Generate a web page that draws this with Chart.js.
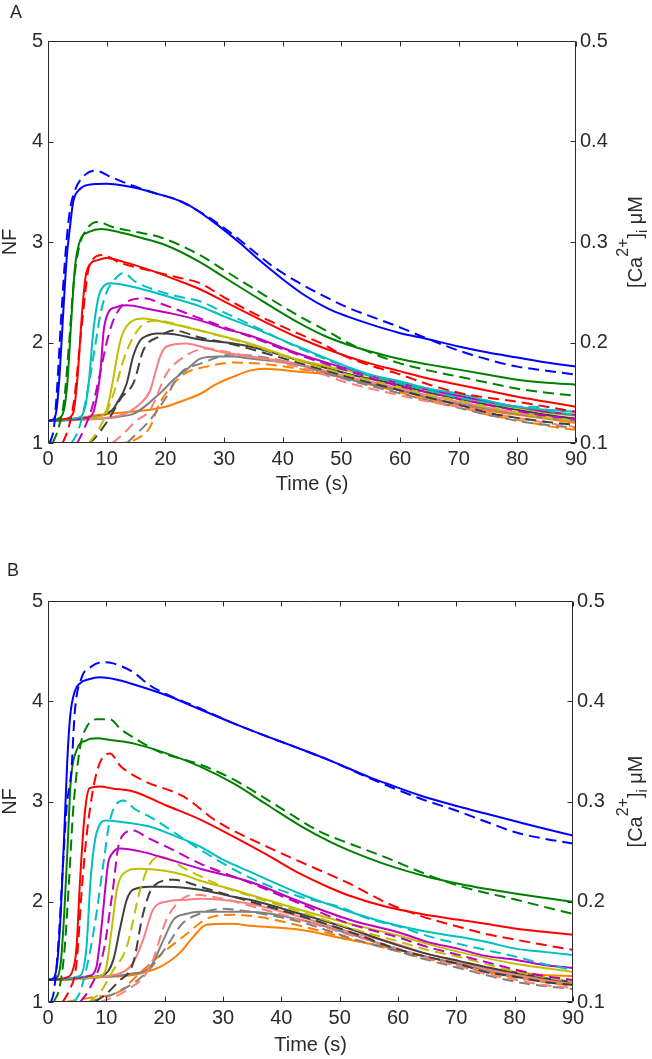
<!DOCTYPE html>
<html><head><meta charset="utf-8">
<script src="https://cdn.jsdelivr.net/npm/chart.js@4.4.1/dist/chart.umd.min.js"></script>
<style>
html,body{margin:0;padding:0;background:#fff;}
#wrap{position:relative;width:652px;height:1059px;overflow:hidden;}
canvas{position:absolute;left:0;}
</style></head><body>
<div id="wrap">
<canvas id="cA" width="652" height="520" style="top:0px"></canvas>
<canvas id="cB" width="652" height="539" style="top:520px"></canvas>
</div>
<script>
// ---------- tick labels ----------
const timeTicks = [0,10,20,30,40,50,60,70,80,90];
const nfTicks = [1,2,3,4,5];
const caTicks = [0.1,0.2,0.3,0.4,0.5];

// ---------- Panel A: [time (s), NF] ; M = model (solid), D = data (dashed) ----------
const A_blue_M = [[0,1.22],[1,1.24],[1.5,1.35],[2,1.7],[2.6,2.3],[3.2,2.85],[3.75,3.15],[4.3,3.4],[5.5,3.53],[7,3.57],[10,3.58],[14,3.55],[18,3.49],[23.6,3.38],[28.2,3.2],[32.7,2.99],[36,2.82],[40,2.63],[44,2.46],[48,2.33],[51,2.26],[55,2.18],[59.6,2.1],[65,2.03],[70,1.96],[75,1.9],[80,1.85],[85,1.8],[90,1.76]];
const A_blue_D = [[0.3,1.0],[1,1.15],[1.5,1.5],[2.2,2.2],[3,2.9],[3.7,3.3],[4.5,3.5],[6,3.65],[8,3.71],[11,3.64],[14,3.57],[18,3.49],[22,3.42],[27,3.26],[31.6,3.07],[35,2.91],[38.5,2.75],[42.6,2.6],[46.4,2.48],[51,2.35],[55,2.26],[59.6,2.16],[65,2.03],[70,1.92],[75,1.83],[80,1.76],[85,1.72],[90,1.68]];
const A_green_M = [[0,1.22],[2,1.25],[2.8,1.35],[3.3,1.6],[4,2.25],[4.6,2.75],[5.5,3.02],[7,3.1],[9,3.13],[12,3.1],[16,3.04],[20,2.97],[25.9,2.8],[30,2.65],[34.4,2.49],[42.6,2.2],[47,2.07],[51,1.98],[55,1.91],[59.6,1.84],[65,1.78],[70,1.73],[75,1.68],[80,1.63],[85,1.6],[90,1.58]];
const A_green_D = [[0.8,1.0],[1.8,1.15],[2.8,1.45],[3.6,2.0],[4.4,2.6],[5.3,2.95],[6.5,3.12],[8.4,3.2],[11,3.15],[15,3.1],[19,3.05],[25.9,2.87],[30,2.72],[34.4,2.56],[42.6,2.27],[48.6,2.08],[51,2.0],[55,1.9],[59.6,1.8],[65,1.72],[70,1.66],[75,1.6],[80,1.54],[85,1.5],[90,1.47]];
const A_red_M = [[0,1.22],[3,1.24],[4.3,1.3],[5,1.63],[5.8,2.29],[6.4,2.65],[7.2,2.78],[8.5,2.82],[10,2.84],[13,2.8],[17.4,2.72],[22,2.62],[25.9,2.53],[30,2.41],[34.4,2.28],[42.6,2.05],[51,1.86],[55,1.79],[59.6,1.72],[65,1.64],[70,1.58],[75,1.52],[80,1.46],[85,1.41],[90,1.36]];
const A_red_D = [[2.5,1.0],[3.5,1.15],[4.5,1.45],[5.3,1.9],[6,2.3],[6.8,2.7],[7.5,2.82],[9.4,2.87],[12,2.8],[17,2.72],[22,2.65],[25.9,2.59],[30,2.45],[34.4,2.31],[42.6,2.09],[47,1.98],[50.4,1.87],[55,1.77],[59.6,1.69],[65,1.58],[70,1.5],[75,1.45],[80,1.41],[85,1.36],[90,1.31]];
const A_cyan_M = [[0,1.22],[5,1.25],[6.3,1.35],[7,1.63],[7.7,2.1],[8.6,2.45],[9.5,2.56],[10.6,2.59],[14,2.56],[17.4,2.51],[22,2.43],[25.9,2.36],[30,2.26],[34.4,2.16],[42.6,1.96],[51,1.76],[55,1.68],[59.6,1.62],[65,1.54],[70,1.49],[75,1.42],[80,1.36],[85,1.33],[90,1.31]];
const A_cyan_D = [[4,1.0],[5,1.1],[6,1.3],[7,1.6],[8,1.95],[9,2.3],[10,2.5],[11,2.6],[12.8,2.69],[15,2.6],[17.4,2.54],[22,2.46],[25.9,2.41],[30,2.3],[34.4,2.18],[42.6,1.95],[51,1.75],[55,1.67],[59.6,1.6],[65,1.52],[70,1.45],[75,1.4],[80,1.36],[83,1.36],[86,1.31],[90,1.28]];
const A_mag_M = [[0,1.22],[6.5,1.25],[7.7,1.3],[8.3,1.45],[8.9,1.69],[9.5,2.12],[10.3,2.3],[11.5,2.35],[13.4,2.37],[17.4,2.33],[21,2.29],[25.9,2.22],[30,2.14],[34.4,2.07],[42.6,1.89],[48,1.79],[51,1.74],[55,1.67],[59.6,1.6],[65,1.53],[70,1.47],[75,1.41],[80,1.36],[85,1.31],[90,1.28]];
const A_mag_D = [[5,1.0],[6,1.12],[7.5,1.35],[8.9,1.7],[10,2.0],[11,2.2],[12.5,2.36],[14,2.42],[16.3,2.44],[20,2.37],[25.9,2.24],[34.4,2.06],[42.6,1.88],[51,1.72],[59.6,1.57],[65,1.5],[70,1.44],[75,1.38],[80,1.32],[85,1.27],[90,1.24]];
const A_olive_M = [[0,1.22],[8.5,1.26],[10,1.33],[11,1.6],[11.9,1.9],[12.5,2.05],[13.5,2.17],[16.3,2.24],[20,2.2],[25.9,2.12],[30,2.06],[34.4,1.99],[42.6,1.83],[51,1.72],[59.6,1.6],[65,1.52],[70,1.46],[75,1.4],[80,1.35],[85,1.3],[90,1.27]];
const A_olive_D = [[7,1.0],[8.5,1.12],[10,1.3],[11.5,1.55],[13,1.85],[14.5,2.05],[16,2.17],[18.5,2.22],[22,2.18],[25.9,2.12],[34.4,1.98],[42.6,1.82],[51,1.68],[59.6,1.56],[65,1.48],[70,1.42],[75,1.36],[80,1.3],[85,1.25],[90,1.22]];
const A_black_M = [[0,1.22],[9,1.27],[11,1.33],[11.7,1.39],[13.4,1.59],[14.5,1.86],[15.7,2.02],[17,2.07],[18.5,2.09],[20,2.09],[25.9,2.03],[31.6,1.99],[34.4,1.96],[43,1.82],[51,1.69],[59.6,1.58],[65,1.5],[70,1.44],[75,1.38],[80,1.33],[85,1.28],[90,1.24]];
const A_black_D = [[7,1.0],[8,1.05],[10.6,1.26],[12.5,1.45],[14.6,1.6],[16.3,1.93],[19,2.06],[21.4,2.12],[25.9,2.05],[31.6,1.98],[42.6,1.8],[51,1.66],[59.6,1.53],[65,1.45],[70,1.38],[75,1.3],[80,1.25],[85,1.21],[90,1.18]];
const A_pink_M = [[0,1.22],[12,1.27],[15.7,1.39],[17.4,1.52],[18.1,1.66],[19.1,1.86],[20.2,1.96],[23.6,1.99],[26,1.96],[30,1.9],[34.4,1.86],[42.6,1.79],[51,1.66],[59.6,1.55],[65,1.47],[70,1.41],[75,1.35],[80,1.3],[85,1.27],[90,1.24]];
const A_pink_D = [[11,1.0],[13,1.1],[15,1.22],[17.4,1.33],[20.2,1.69],[22.5,1.83],[27,1.94],[31,1.9],[38,1.82],[45,1.72],[51,1.6],[59.6,1.48],[65,1.41],[70,1.36],[75,1.3],[80,1.25],[85,1.2],[90,1.16]];
const A_gray_M = [[0,1.22],[14,1.28],[19,1.49],[21.4,1.63],[23.6,1.73],[26,1.84],[29,1.86],[31.6,1.86],[34.4,1.84],[42.6,1.78],[51,1.64],[59.6,1.53],[65,1.45],[70,1.39],[75,1.34],[80,1.29],[85,1.25],[90,1.22]];
const A_gray_D = [[13.5,1.0],[14,1.03],[17.4,1.23],[20.2,1.46],[22.5,1.69],[26,1.79],[31.6,1.88],[38,1.84],[42.6,1.78],[51,1.63],[59.6,1.5],[65,1.42],[70,1.35],[75,1.28],[80,1.22],[85,1.18],[90,1.15]];
const A_orange_M = [[0,1.22],[5,1.25],[8.9,1.28],[14,1.31],[17.4,1.33],[20,1.36],[23,1.42],[26,1.49],[28.5,1.58],[31.6,1.66],[34.4,1.72],[37,1.74],[42.6,1.71],[48,1.68],[51,1.64],[55,1.58],[59.6,1.53],[65,1.44],[70,1.38],[75,1.32],[80,1.28],[85,1.24],[90,1.2]];
const A_orange_D = [[0,1.0],[12.3,1.0],[15.7,1.06],[17.4,1.16],[19,1.39],[21.4,1.59],[23.6,1.7],[27,1.76],[31.6,1.8],[36,1.79],[42.6,1.74],[51,1.64],[59.6,1.51],[65,1.42],[70,1.36],[75,1.28],[80,1.23],[85,1.17],[90,1.13]];

// ---------- Panel B ----------
const B_blue_M = [[0,1.22],[1,1.24],[1.6,1.4],[2.2,1.9],[2.8,2.7],[3.3,3.4],[3.8,3.85],[4.6,4.1],[5.5,4.18],[7,4.22],[8.9,4.24],[11.5,4.22],[14.6,4.17],[20.3,4.06],[26,3.92],[31.8,3.78],[37.5,3.65],[43,3.53],[48.3,3.41],[55.2,3.24],[58,3.18],[63.8,3.06],[70.4,2.95],[75,2.88],[80.3,2.8],[85,2.73],[90,2.66]];
const B_blue_D = [[0.5,1.0],[1,1.1],[1.8,1.6],[2.5,2.3],[3.2,2.95],[4,3.3],[4.6,3.9],[5.8,4.24],[7.3,4.34],[9.5,4.39],[11,4.38],[14.6,4.29],[17.4,4.16],[20.3,4.07],[26,3.93],[31.8,3.78],[37.5,3.65],[43,3.53],[48.3,3.41],[55.2,3.23],[63.8,3.03],[70.4,2.9],[75,2.8],[80.3,2.69],[85,2.63],[90,2.58]];
const B_green_M = [[0,1.22],[1.5,1.24],[2.2,1.4],[2.8,1.9],[3.4,2.6],[3.9,3.2],[4.9,3.51],[6.6,3.61],[8.3,3.63],[11,3.61],[14.6,3.58],[20.3,3.48],[26,3.35],[31.8,3.18],[37.5,2.97],[43.2,2.76],[48.3,2.6],[51.7,2.51],[58,2.37],[65,2.25],[70.4,2.18],[75,2.13],[80.3,2.08],[85,2.04],[90,2.0]];
const B_green_D = [[1,1.0],[2,1.15],[2.8,1.5],[3.6,2.2],[4.3,2.9],[5.5,3.54],[6.6,3.74],[8.3,3.82],[10.6,3.82],[12.5,3.72],[14.6,3.64],[18.9,3.5],[26,3.37],[31.8,3.22],[40.3,2.92],[46.6,2.7],[51.7,2.58],[58,2.44],[65,2.27],[70.4,2.16],[75,2.09],[80.3,2.02],[85,1.95],[90,1.88]];
const B_red_M = [[0,1.22],[3.5,1.25],[4.6,1.4],[4.9,1.55],[5.5,2.22],[6.3,2.88],[7.1,3.13],[8.9,3.15],[11,3.13],[14.6,3.1],[20.3,2.96],[26.1,2.82],[31.8,2.65],[37.5,2.47],[43.2,2.28],[48.3,2.14],[51.7,2.06],[58,1.95],[63.8,1.88],[70.4,1.82],[75,1.78],[80.3,1.73],[85,1.7],[90,1.67]];
const B_red_D = [[2.5,1.0],[3.5,1.1],[4.9,1.39],[5.7,2.05],[6.6,2.65],[8.3,3.28],[10.6,3.48],[12.5,3.35],[16.3,3.21],[23.2,3.05],[29,2.8],[37.5,2.55],[43.2,2.4],[48.3,2.27],[51.7,2.18],[55,2.08],[58,1.99],[63.8,1.86],[70.4,1.75],[75,1.68],[80.3,1.62],[85,1.57],[90,1.52]];
const B_cyan_M = [[0,1.22],[5.5,1.26],[6.6,1.55],[7.3,2.22],[8.3,2.68],[10,2.81],[12,2.8],[17.4,2.75],[22,2.65],[26.1,2.55],[30,2.42],[34.6,2.3],[43.2,2.08],[48.3,1.97],[51.7,1.9],[58,1.79],[65,1.7],[70.4,1.65],[75,1.6],[80.3,1.53],[85,1.5],[90,1.47]];
const B_cyan_D = [[4.5,1.0],[5.5,1.1],[7.2,1.5],[8.3,1.88],[9.5,2.38],[10.6,2.81],[12.9,3.01],[15,2.92],[17.4,2.85],[26.1,2.52],[34.6,2.24],[43.2,2.05],[49.9,1.95],[55,1.83],[60.3,1.75],[65,1.66],[70.4,1.58],[75,1.52],[80.3,1.45],[85,1.38],[90,1.32]];
const B_mag_M = [[0,1.22],[7,1.26],[8.3,1.35],[8.9,1.6],[9.4,1.88],[10.3,2.38],[11,2.48],[12.3,2.53],[16,2.5],[20.3,2.43],[26.1,2.33],[34.6,2.2],[43.2,2.0],[51.7,1.82],[60.3,1.69],[65,1.6],[70.4,1.53],[75,1.46],[80.3,1.42],[85,1.37],[90,1.34]];
const B_mag_D = [[5.5,1.0],[7,1.12],[9.5,1.5],[11,2.07],[12.3,2.61],[14.6,2.71],[17,2.64],[20.3,2.55],[26.1,2.38],[34.6,2.19],[43.2,1.98],[51.7,1.78],[60.3,1.64],[65,1.55],[70.4,1.47],[75,1.4],[80.3,1.32],[85,1.26],[90,1.22]];
const B_olive_M = [[0,1.22],[9,1.26],[10,1.35],[10.9,1.72],[11.8,2.12],[12.9,2.28],[15.8,2.33],[20,2.31],[23.2,2.27],[26.1,2.21],[31.8,2.12],[34.6,2.07],[43.2,1.92],[51.7,1.78],[60.3,1.66],[65,1.58],[70.4,1.5],[75,1.44],[80.3,1.38],[85,1.34],[90,1.3]];
const B_olive_D = [[7,1.0],[9,1.1],[11,1.3],[13.5,1.55],[15.8,2.12],[17.5,2.38],[19.2,2.45],[23.8,2.32],[30,2.15],[34.6,2.06],[43.2,1.9],[51.7,1.74],[60.3,1.6],[65,1.52],[70.4,1.45],[75,1.38],[80.3,1.3],[85,1.25],[90,1.2]];
const B_black_M = [[0,1.22],[9.5,1.27],[11.2,1.42],[12.3,1.72],[13.5,2.02],[14.6,2.12],[17.5,2.15],[20.3,2.15],[26.1,2.12],[31.8,2.05],[34.6,2.02],[43.2,1.88],[51.7,1.73],[60.3,1.56],[65,1.48],[70.4,1.41],[75,1.35],[80.3,1.29],[85,1.24],[90,1.2]];
const B_black_D = [[8,1.0],[10,1.08],[12,1.2],[14.6,1.39],[16.3,1.88],[18,2.15],[21.5,2.22],[26.1,2.15],[31.8,2.05],[43.2,1.86],[51.7,1.7],[60.3,1.52],[65,1.45],[70.4,1.38],[75,1.3],[80.3,1.25],[85,1.2],[90,1.17]];
const B_pink_M = [[0,1.22],[12,1.28],[14.6,1.39],[16.3,1.62],[18,1.92],[20.3,2.0],[23.8,2.02],[26.1,2.03],[34.6,1.98],[43.2,1.85],[51.7,1.7],[60.3,1.57],[65,1.48],[70.4,1.4],[75,1.33],[80.3,1.27],[85,1.22],[90,1.18]];
const B_pink_D = [[9,1.0],[13,1.1],[17.5,1.35],[20.3,1.82],[22.6,2.01],[25,2.07],[30,2.03],[34.6,1.96],[43.2,1.82],[51.7,1.67],[60.3,1.53],[65,1.44],[70.4,1.36],[75,1.28],[80.3,1.22],[85,1.17],[90,1.14]];
const B_gray_M = [[0,1.22],[14,1.28],[17.5,1.35],[19.8,1.62],[21.5,1.82],[23.8,1.88],[26,1.9],[31.8,1.9],[34.6,1.9],[43.2,1.82],[51.7,1.68],[60.3,1.52],[65,1.45],[70.4,1.38],[75,1.32],[80.3,1.26],[85,1.22],[90,1.18]];
const B_gray_D = [[7,1.0],[12,1.1],[17,1.3],[20.3,1.55],[23,1.78],[26,1.88],[30,1.93],[34.6,1.9],[43.2,1.8],[51.7,1.64],[60.3,1.5],[65,1.42],[70.4,1.34],[75,1.27],[80.3,1.2],[85,1.16],[90,1.13]];
const B_orange_M = [[0,1.22],[9,1.25],[14.6,1.27],[19.2,1.35],[22.6,1.49],[24.9,1.65],[27.2,1.77],[31.8,1.78],[34.6,1.76],[43.2,1.72],[51.7,1.62],[60.3,1.52],[65,1.45],[70.4,1.38],[75,1.33],[80.3,1.3],[85,1.27],[90,1.26]];
const B_orange_D = [[3,1.0],[8,1.05],[11.8,1.09],[16.3,1.32],[20.3,1.52],[23.8,1.68],[27.2,1.83],[31.8,1.87],[36,1.85],[43.2,1.76],[51.7,1.63],[60.3,1.5],[65,1.43],[70.4,1.36],[75,1.3],[80.3,1.24],[85,1.2],[90,1.16]];

// ---------- styles ----------
const FONT = '"Liberation Sans", Arial, Helvetica, sans-serif';
const TXT = '#2b2b2b';
const COL = {blue:'#0000ff', green:'#008000', red:'#ff0000', cyan:'#00bfbf', mag:'#bf00bf',
             olive:'#bfbf00', black:'#3f3f3f', pink:'#f88080', gray:'#808080', orange:'#ff8000'};

const panelA = [[A_blue_M,A_blue_D,'blue'],[A_green_M,A_green_D,'green'],[A_red_M,A_red_D,'red'],[A_cyan_M,A_cyan_D,'cyan'],[A_mag_M,A_mag_D,'mag'],[A_olive_M,A_olive_D,'olive'],[A_black_M,A_black_D,'black'],[A_pink_M,A_pink_D,'pink'],[A_gray_M,A_gray_D,'gray'],[A_orange_M,A_orange_D,'orange']];
const panelB = [[B_blue_M,B_blue_D,'blue'],[B_green_M,B_green_D,'green'],[B_red_M,B_red_D,'red'],[B_cyan_M,B_cyan_D,'cyan'],[B_mag_M,B_mag_D,'mag'],[B_olive_M,B_olive_D,'olive'],[B_black_M,B_black_D,'black'],[B_pink_M,B_pink_D,'pink'],[B_gray_M,B_gray_D,'gray'],[B_orange_M,B_orange_D,'orange']];

function toXY(p){ return p.map(q => ({x:q[0], y:q[1]})); }
function buildDatasets(list){
  const out = [];
  list.forEach(([m, d, c]) => {
    out.push({data:toXY(m), borderColor:COL[c], borderWidth:2, pointRadius:0, fill:false, cubicInterpolationMode:'monotone', yAxisID:'y'});
    out.push({data:toXY(d), borderColor:COL[c], borderWidth:2, borderDash:[11,6], pointRadius:0, fill:false, cubicInterpolationMode:'monotone', yAxisID:'y'});
  });
  return out;
}

const frameTicks = {
  id:'frameTicks',
  afterDatasetsDraw(chart, args, o){
    const {ctx, chartArea:a, scales} = chart;
    const x = scales.x, y = scales.y, y1 = scales.y1;
    ctx.save();
    ctx.strokeStyle = TXT; ctx.lineWidth = 1;
    const L = Math.round(a.left)+0.5, R = Math.round(a.right)-0.5, T = Math.round(a.top)+0.5, B = Math.round(a.bottom)-0.5;
    ctx.beginPath();
    ctx.rect(L, T, R-L, B-T);
    timeTicks.forEach(v => { const px = Math.round(x.getPixelForValue(v))+0.5; ctx.moveTo(px,B); ctx.lineTo(px,B-5); ctx.moveTo(px,T); ctx.lineTo(px,T+5); });
    nfTicks.forEach(v => { const py = Math.round(y.getPixelForValue(v))+0.5; ctx.moveTo(L,py); ctx.lineTo(L+5,py); });
    caTicks.forEach(v => { const py = Math.round(y1.getPixelForValue(v))+0.5; ctx.moveTo(R,py); ctx.lineTo(R-5,py); });
    ctx.stroke();
    // panel letter
    ctx.fillStyle = TXT;
    ctx.font = '18px ' + FONT;
    ctx.textBaseline = 'alphabetic'; ctx.textAlign = 'left';
    ctx.fillText(o.letter, o.lx, o.ly);
    // right axis title  [Ca2+]i µM
    const parts = [
      {t:'[Ca', s:20, dy:0}, {t:'2+', s:16, dy:-14}, {t:']', s:20, dy:0}, {t:'i', s:14, dy:5}, {t:' \u03bcM', s:20, dy:0}
    ];
    let W = 0;
    parts.forEach(p => { ctx.font = p.s + 'px ' + FONT; p.w = ctx.measureText(p.t).width; W += p.w; });
    ctx.translate(o.titleX, (a.top + a.bottom)/2);
    ctx.rotate(-Math.PI/2);
    let cx = -W/2;
    parts.forEach(p => { ctx.font = p.s + 'px ' + FONT; ctx.fillText(p.t, cx, p.dy); cx += p.w; });
    ctx.restore();
  }
};

function makeChart(id, list, p){
  const tickFont = {family:FONT, size:20};
  return new Chart(document.getElementById(id), {
    type:'line',
    data:{datasets: buildDatasets(list)},
    plugins:[frameTicks],
    options:{
      responsive:false, animation:false, devicePixelRatio:1,
      layout:{padding:{top:p.top, left:0, right:0, bottom:0}},
      plugins:{legend:{display:false}, tooltip:{enabled:false},
               frameTicks:{letter:p.letter, lx:p.lx, ly:p.ly, titleX:642}},
      scales:{
        x:{type:'linear', min:0, max:90, position:'bottom',
           grid:{display:false, drawTicks:false}, border:{display:false},
           afterBuildTicks: s => { s.ticks = timeTicks.map(v => ({value:v})); },
           ticks:{color:TXT, font:tickFont, padding:4, maxRotation:0, autoSkip:false},
           title:{display:true, text:'Time (s)', color:TXT, font:tickFont, padding:{top:0, bottom:p.xTitlePad}},
           afterFit: s => { s.height = p.xH; }},
        y:{type:'linear', min:1, max:5, position:'left',
           grid:{display:false, drawTicks:false}, border:{display:false},
           afterBuildTicks: s => { s.ticks = nfTicks.map(v => ({value:v})); },
           ticks:{color:TXT, font:tickFont, padding:5},
           title:{display:true, text:'NF', color:TXT, font:tickFont, padding:{top:-2, bottom:0}},
           afterFit: s => { s.width = 48; }},
        y1:{type:'linear', min:0.1, max:0.5, position:'right',
           grid:{display:false, drawTicks:false}, border:{display:false},
           afterBuildTicks: s => { s.ticks = caTicks.map(v => ({value:v})); },
           ticks:{color:TXT, font:tickFont, padding:4, callback: v => Number(v).toFixed(1)},
           afterFit: s => { s.width = p.rW; }}
      }
    }
  });
}

makeChart('cA', panelA, {top:41, xH:77, xTitlePad:24, rW:76, letter:'A', lx:10, ly:18});
makeChart('cB', panelB, {top:81, xH:57, xTitlePad:2, rW:79, letter:'B', lx:7, ly:56});
</script>
</body></html>
